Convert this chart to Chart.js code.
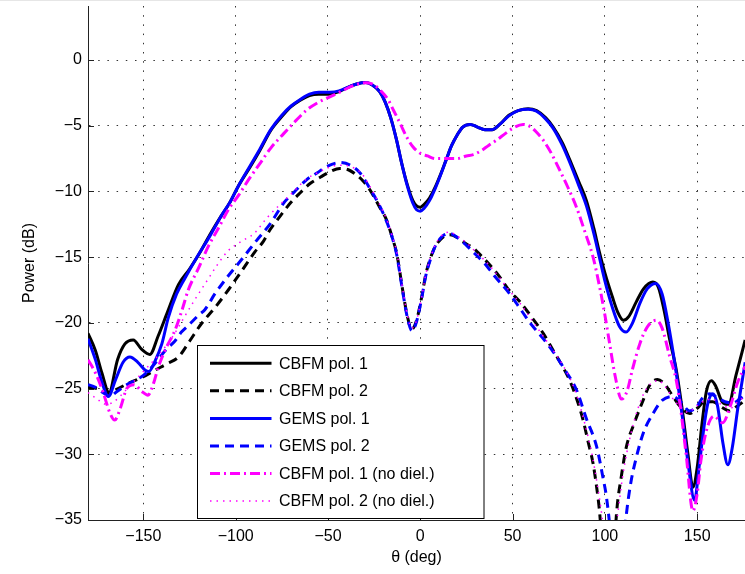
<!DOCTYPE html>
<html>
<head>
<meta charset="utf-8">
<script src="https://cdn.jsdelivr.net/npm/chart.js@4.4.0/dist/chart.umd.min.js"></script>
<style>
  html, body { margin: 0; padding: 0; background: #fff; }
</style>
</head>
<body>
<canvas id="powerChart" width="745" height="574"></canvas>
<script>
// angle (deg) / power (dB), one pair of arrays per curve
var thetaCbfm1 = [-180,-176,-172.5,-168.6,-164,-160,-155.5,-151,-146.5,-142,-137,-131,-125,-120,-114,-108,-103,-98.6,-92,-87,-81,-75,-70,-65,-60,-55,-49,-44,-38,-34,-29.5,-26,-22,-19,-16,-13,-10,-7,-4,-2,0,2,5,8,11,14,17,20,23,27,31,35,39,43,48,53,58.4,63,68,72,77,81,86,90,94,97,100,104,107,110,113,117,121,126,129,132,135,138.7,142,145,147.7,150,152.5,155,157.7,160,163.5,167,171,176];
var powerCbfm1 = [-20.8,-22.1,-23.8,-25.3,-22.8,-21.6,-21.3,-22.0,-22.4,-21.0,-19.2,-17.1,-15.9,-14.8,-13.3,-11.9,-10.8,-9.6,-8.1,-6.9,-5.35,-4.3,-3.55,-3.05,-2.7,-2.6,-2.6,-2.4,-2.0,-1.8,-1.72,-1.9,-2.4,-3.2,-4.4,-6.0,-7.9,-9.5,-10.7,-11.1,-11.2,-11.0,-10.5,-9.7,-8.7,-7.6,-6.5,-5.7,-5.1,-4.9,-5.1,-5.3,-5.3,-4.9,-4.2,-3.85,-3.7,-3.85,-4.4,-5.1,-6.3,-7.6,-9.3,-10.7,-12.8,-14.6,-16.2,-18.0,-19.2,-19.8,-19.5,-18.4,-17.4,-16.9,-17.3,-19.0,-21.2,-23.6,-26.7,-30.0,-32.5,-31.0,-27.8,-25.2,-24.4,-24.8,-26.0,-26.2,-24.0,-21.3];

var thetaCbfm2 = [-180,-175,-171,-168.5,-165,-158,-150,-143.7,-137,-131,-125,-118.5,-111,-104,-97,-89.6,-85,-81.3,-76,-70.5,-65,-59.7,-54,-48.9,-43.5,-39,-34.4,-31,-27.2,-22,-18.2,-15,-12.8,-9.2,-7,-4.7,-2,0.8,3,5.2,8,10.7,13,16.1,20,25,28.7,33,37.7,43,48,54,60,66.6,72,77,81,85,88.2,91,93.6,96,97.2,99,101,103.5,105,106.3,109,111.7,116,120.7,124,128.5,132,136.9,141,146,150,154,158.5,163,167.6,172,176];
var powerCbfm2 = [-24.9,-25.0,-25.2,-25.4,-25.1,-24.6,-24.1,-23.6,-23.1,-22.6,-21.4,-20.05,-18.8,-17.5,-16.1,-14.6,-13.8,-12.9,-11.9,-10.9,-10.1,-9.4,-8.9,-8.5,-8.25,-8.35,-8.76,-9.2,-9.9,-11.2,-12.2,-13.6,-14.7,-17.8,-19.5,-20.5,-19.8,-18.0,-16.3,-15.2,-14.2,-13.7,-13.4,-13.3,-13.5,-14.0,-14.3,-14.9,-15.6,-16.5,-17.5,-18.4,-19.5,-20.8,-22.1,-23.3,-24.4,-25.9,-27.4,-29.1,-30.7,-33.0,-34.5,-38,-41,-41,-37.5,-34.5,-31.6,-29.4,-27.6,-25.9,-24.8,-24.3,-24.6,-25.6,-26.4,-26.9,-26.5,-26.0,-26.0,-26.4,-26.7,-26.3,-25.9];

var thetaGems1 = [-180,-176,-172.5,-169,-165,-161,-157.3,-153,-149,-147,-144,-140,-136.5,-132,-127.5,-121,-114,-108,-103,-98.6,-92,-87,-81,-75,-70,-65,-60,-55,-49,-44,-38,-34,-29.5,-26,-22,-19,-16,-13,-10,-7,-4,-2,0,2,5,8,11,14,17,20,23,27,31,35,39,43,48,53,58.4,63,68,72,77,81,86,90,94,97,100,104,108,111.5,115,119,123,127.5,131,134,138,142,145,148.6,151,154,156,158.5,161,164,166.6,169,172,176];
var powerGems1 = [-21.2,-22.8,-24.5,-25.6,-24.3,-23.0,-22.6,-23.0,-23.6,-23.7,-23.0,-21.6,-19.6,-17.8,-16.6,-15.0,-13.4,-11.9,-10.8,-9.6,-8.0,-6.8,-5.3,-4.2,-3.5,-3.0,-2.6,-2.45,-2.45,-2.35,-2.0,-1.8,-1.72,-1.9,-2.4,-3.2,-4.4,-6.0,-7.9,-9.6,-10.9,-11.4,-11.5,-11.3,-10.7,-9.8,-8.75,-7.6,-6.5,-5.7,-5.1,-4.9,-5.1,-5.3,-5.3,-4.9,-4.25,-3.85,-3.75,-3.9,-4.5,-5.2,-6.5,-7.8,-9.6,-11.1,-13.2,-15.0,-16.8,-18.8,-20.3,-20.7,-20.0,-18.5,-17.4,-17.0,-17.8,-19.8,-23.2,-27.2,-30.6,-33.5,-31.0,-27.6,-26.0,-25.4,-26.3,-29.2,-30.8,-29.5,-26.5,-23.0];

var thetaGems2 = [-180,-176,-172,-168,-165,-160,-155,-150,-145,-141,-137.5,-133,-129.4,-125.7,-120,-116.7,-111.3,-105,-96.9,-88.5,-81,-74.1,-68,-61.5,-56,-50.6,-43.5,-38,-32.6,-27.2,-22,-18.2,-15,-12.8,-9.2,-7,-4.5,-2,0.8,3,5.2,8,10.7,13,16,20,25,30,35,40,48.5,54,60,66,72,78,84.6,90,95.5,99,100.9,103,105,108,110,111.7,114,117.1,121,126.1,131,136.9,141,146,149.6,153,156.8,160,165,169.4,173,176];
var powerGems2 = [-24.7,-24.9,-25.3,-25.6,-25.3,-24.8,-24.4,-24.0,-23.3,-22.6,-22.0,-21.4,-20.7,-20.2,-19.4,-19.0,-17.8,-16.6,-15.2,-13.7,-12.4,-10.9,-10.0,-9.1,-8.6,-8.1,-7.8,-8.0,-8.6,-9.8,-11.1,-12.3,-13.6,-14.8,-17.9,-19.6,-20.6,-19.9,-18.1,-16.4,-15.3,-14.2,-13.6,-13.3,-13.2,-13.5,-14.1,-14.8,-15.5,-16.4,-17.8,-18.9,-20.1,-21.1,-22.2,-23.5,-25.1,-27.3,-29.4,-31.8,-33.3,-36,-40,-40,-37,-34.5,-32.2,-30.2,-28.3,-26.9,-25.9,-25.6,-26.0,-26.7,-26.4,-25.7,-25.4,-25.6,-26.0,-26.1,-25.8,-25.5];

var thetaCbfm1nd = [-180,-176,-172,-168,-165.5,-162.5,-159,-155,-151,-147.5,-144.5,-142,-138,-133,-129,-125.7,-120,-114.9,-109,-104,-98,-93,-87,-81,-74,-68,-61.5,-55,-49,-43,-38,-33,-29,-25,-21,-17.5,-14.6,-11,-7.4,-4,0,4,8,14,20,25,28.7,33,37,41.3,46,50,55.7,60,63,66.6,71,75.6,80,84.6,89,93.6,97.2,100,102.6,105.5,109,112,115,118.9,123,127.9,131,135,138.7,141,144,147.7,150,152,155,159,163.8,168,172,176];
var powerCbfm1nd = [-22.8,-23.8,-25.2,-26.9,-27.4,-26.5,-25.0,-24.7,-25.2,-25.5,-24.6,-23.4,-22.0,-20.6,-19.0,-17.5,-15.8,-14.2,-12.7,-11.4,-10.2,-9.1,-7.9,-6.7,-5.6,-4.7,-3.8,-3.2,-2.8,-2.4,-2.05,-1.8,-1.73,-1.9,-2.4,-3.0,-3.8,-4.8,-5.85,-6.6,-7.1,-7.3,-7.5,-7.5,-7.5,-7.3,-7.2,-6.9,-6.5,-6.1,-5.6,-5.2,-4.9,-5.1,-5.5,-6.1,-7.1,-8.4,-9.7,-11.2,-13.0,-15.0,-17.3,-19.4,-21.6,-24.0,-25.8,-25.2,-23.5,-21.6,-20.3,-19.8,-20.4,-22.5,-24.4,-26.5,-30.0,-34.3,-33.0,-30.5,-28.2,-27.1,-27.6,-26.3,-24.5,-23.3];

var thetaCbfm2nd = [-180,-175,-170,-166,-160,-154,-148,-142,-137,-133,-128,-122,-116,-110,-104,-97,-90,-83,-76,-70,-62,-56,-50,-44,-38,-32,-27,-22,-18,-15,-12.8,-9.2,-7,-4.6,-2,0.8,3,5.2,8,10.7,13,16,20,25,30,36,42,48,54,60,66,72,78,84,89,93,96,98.5,101,104,107,109.5,112,116,121,125,129,133,137,141,145,149,153,158,163,168,172,176];
var powerCbfm2nd = [-25.3,-25.8,-26.2,-26.0,-25.2,-24.3,-23.4,-22.5,-21.6,-20.8,-19.6,-18.2,-16.9,-15.6,-14.5,-13.8,-13.2,-12.0,-11.0,-10.2,-9.1,-8.6,-8.2,-8.0,-8.1,-8.6,-9.7,-11.0,-12.2,-13.5,-14.6,-17.7,-19.4,-20.4,-19.8,-18.0,-16.3,-15.2,-14.1,-13.5,-13.2,-13.1,-13.4,-13.9,-14.6,-15.4,-16.4,-17.5,-18.5,-19.7,-20.9,-22.1,-23.4,-25.2,-27.6,-30.0,-32.4,-34.8,-38,-38,-34.5,-31.8,-29.8,-27.4,-25.4,-24.6,-24.4,-24.9,-25.8,-26.4,-26.8,-26.4,-26.0,-25.8,-26.2,-26.5,-26.0,-25.6];

var seriesNames = ['CBFM pol. 1', 'CBFM pol. 2', 'GEMS pol. 1', 'GEMS pol. 2', 'CBFM pol. 1 (no diel.)', 'CBFM pol. 2 (no diel.)'];
var yTicks = [0, -5, -10, -15, -20, -25, -30, -35];

function toPoints(xs, ys) {
    return xs.map(function(x, i) { return { x: x, y: ys[i] }; });
}

function minusLabel(v) {
    return v < 0 ? '\u2212' + Math.abs(v) : String(v);
}

var FONT = "'Liberation Sans', Arial, Helvetica, sans-serif";

var datasets = [
    { label: seriesNames[0], data: toPoints(thetaCbfm1, powerCbfm1), borderColor: '#000000', borderWidth: 3, borderDash: [], order: 6 },
    { label: seriesNames[1], data: toPoints(thetaCbfm2, powerCbfm2), borderColor: '#000000', borderWidth: 3, borderDash: [9, 6], order: 5 },
    { label: seriesNames[2], data: toPoints(thetaGems1, powerGems1), borderColor: '#0000ff', borderWidth: 3, borderDash: [], order: 4 },
    { label: seriesNames[3], data: toPoints(thetaGems2, powerGems2), borderColor: '#0000ff', borderWidth: 3, borderDash: [9, 6], order: 3 },
    { label: seriesNames[4], data: toPoints(thetaCbfm1nd, powerCbfm1nd), borderColor: '#ff00ff', borderWidth: 3, borderDash: [10, 4, 2, 4], order: 2 },
    { label: seriesNames[5], data: toPoints(thetaCbfm2nd, powerCbfm2nd), borderColor: '#ff00ff', borderWidth: 1.5, borderDash: [1.5, 5], order: 1 }
];
datasets.forEach(function(d) {
    d.fill = false;
    d.pointRadius = 0;
    d.clip = 0;
    d.cubicInterpolationMode = 'monotone';
});

// legend box in the lower left of the axes, and the inward tick marks
var framePlugin = {
    id: 'framePlugin',
    beforeDraw: function(chart) {
        var ctx = chart.ctx;
        ctx.save();
        ctx.fillStyle = '#e6e6e6';
        ctx.fillRect(0, 0, chart.width, 1);
        ctx.restore();
    },
    afterDraw: function(chart) {
        var ctx = chart.ctx;
        var xs = chart.scales.x, ys = chart.scales.y, area = chart.chartArea;
        ctx.save();
        ctx.strokeStyle = '#222';
        ctx.lineWidth = 1;
        ctx.beginPath();
        xs.ticks.forEach(function(t) {
            var px = Math.round(xs.getPixelForValue(t.value)) + 0.5;
            ctx.moveTo(px, area.bottom);
            ctx.lineTo(px, area.bottom - 6);
        });
        ys.ticks.forEach(function(t) {
            var py = Math.round(ys.getPixelForValue(t.value)) + 0.5;
            ctx.moveTo(area.left, py);
            ctx.lineTo(area.left + 6, py);
        });
        ctx.stroke();

        // legend
        var bx = 197.5, by = 345.5, bw = 286.5, bh = 173;
        ctx.fillStyle = '#ffffff';
        ctx.fillRect(bx, by, bw, bh);
        ctx.strokeStyle = '#000';
        ctx.lineWidth = 1;
        ctx.strokeRect(bx, by, bw, bh);
        ctx.font = '16px ' + FONT;
        ctx.textBaseline = 'middle';
        ctx.textAlign = 'left';
        chart.data.datasets.forEach(function(d, i) {
            var rowY = 363.3 + i * 27.55;
            ctx.save();
            ctx.strokeStyle = d.borderColor;
            ctx.lineWidth = d.borderWidth;
            ctx.setLineDash(d.borderDash);
            ctx.beginPath();
            ctx.moveTo(210, rowY);
            ctx.lineTo(271.5, rowY);
            ctx.stroke();
            ctx.restore();
            ctx.fillStyle = '#000';
            ctx.fillText(d.label, 279, rowY + 1);
        });
        ctx.restore();
    }
};

var ctx = document.getElementById('powerChart').getContext('2d');
var powerChart = new Chart(ctx, {
    type: 'line',
    data: { datasets: datasets },
    options: {
        responsive: false,
        animation: false,
        devicePixelRatio: 1,
        layout: { padding: { top: 6, left: 0, right: 0, bottom: 0 } },
        plugins: {
            legend: { display: false },
            tooltip: { enabled: false }
        },
        scales: {
            x: {
                type: 'linear',
                min: -180,
                max: 175.9,
                afterFit: function(scale) {
                    scale.height = 54;
                    scale.paddingLeft = 0;
                    scale.paddingRight = 0;
                },
                ticks: {
                    stepSize: 50,
                    includeBounds: false,
                    maxRotation: 0,
                    padding: 7,
                    color: '#000',
                    font: { family: FONT, size: 16 },
                    callback: minusLabel
                },
                grid: { color: '#333', lineWidth: 1, drawTicks: false },
                border: { display: true, color: '#222', width: 1, dash: [1.5, 7.7] },
                title: {
                    display: true,
                    text: '\u03b8 (deg)',
                    color: '#000',
                    font: { family: FONT, size: 16 },
                    padding: { top: 0, bottom: 7 }
                }
            },
            y: {
                type: 'linear',
                min: -35,
                max: 4.11,
                afterFit: function(scale) {
                    scale.width = 88;
                    scale.paddingTop = 0;
                    scale.paddingBottom = 0;
                },
                afterBuildTicks: function(scale) {
                    scale.ticks = yTicks.map(function(v) { return { value: v }; });
                },
                ticks: {
                    padding: 6,
                    color: '#000',
                    font: { family: FONT, size: 16 },
                    callback: minusLabel
                },
                grid: { color: '#333', lineWidth: 1, drawTicks: false },
                border: { display: true, color: '#222', width: 1, dash: [1.5, 7.7] },
                title: {
                    display: true,
                    text: 'Power (dB)',
                    color: '#000',
                    font: { family: FONT, size: 16 },
                    padding: { top: 20, bottom: 0 }
                }
            }
        }
    },
    plugins: [framePlugin]
});
</script>
</body>
</html>
